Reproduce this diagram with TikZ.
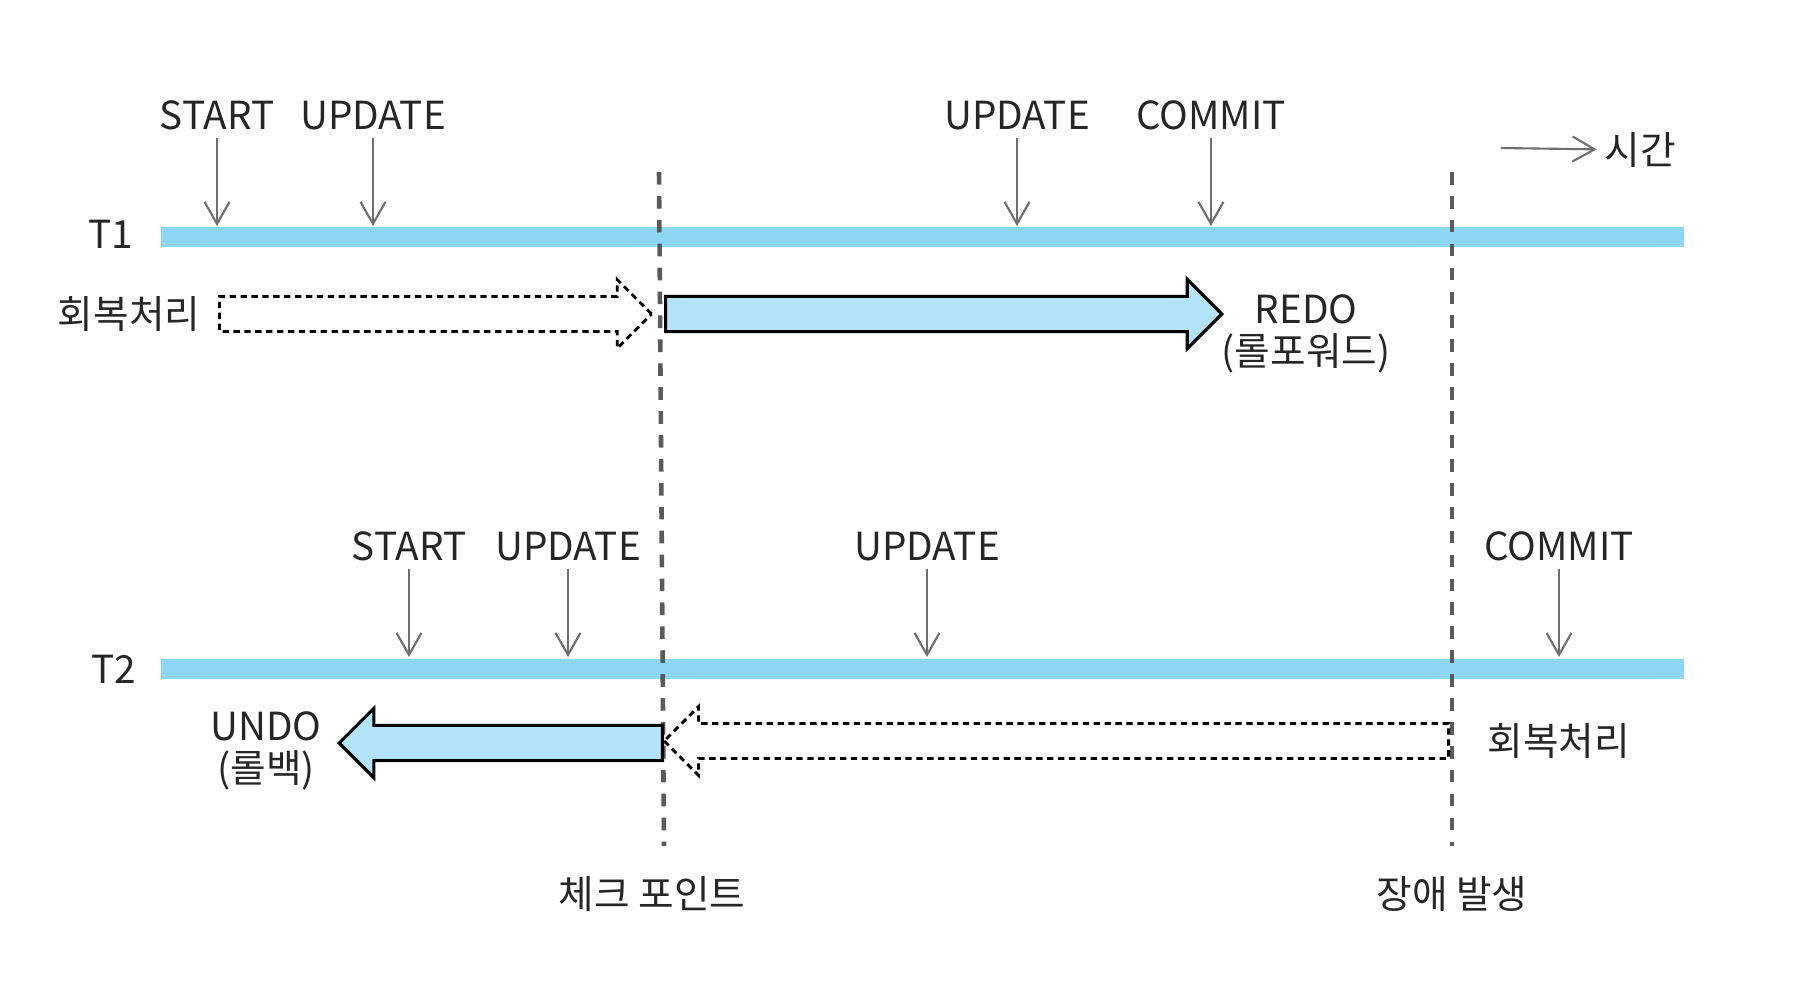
\documentclass[tikz,border=0pt]{standalone}
\usepackage{fontspec}
\setmainfont{Noto Sans CJK KR}
\usepackage{tikz}
\usetikzlibrary{arrows.meta,positioning,shapes.arrows}
\definecolor{tlbar}{HTML}{8DD6F4}
\definecolor{arrfill}{HTML}{B3E3F8}
\definecolor{evtgray}{HTML}{6E6E6E}
\definecolor{linegray}{HTML}{5A5A5A}

\begin{document}
\begin{tikzpicture}[x=0.01cm, y=-0.01cm,
  every node/.style={font=\fontsize{11}{12}\selectfont, text=black!85},
  lbl/.style={inner sep=2pt, align=center},
  bar/.style={tlbar, line width=0.19cm},
  evt/.style={-{Straight Barb[length=2.2mm,width=2.5mm]}, evtgray, line width=0.6pt},
  ckline/.style={linegray, line width=1.3pt, dash pattern=on 3.6pt off 3.2pt},
  fat/.style={single arrow, draw=black, inner xsep=0pt, inner ysep=0.16cm,
              single arrow head indent=0pt, single arrow head extend=0.17cm},
  fatsolid/.style={fat, fill=arrfill, line width=0.9pt},
  fatdash/.style={fat, line width=0.8pt, dash pattern=on 1.8pt off 1.3pt}]
\useasboundingbox (0,0) rectangle (1793,1000);

% time lines
\node (T1) at (111,234) {T1};
\node (T2) at (114,669) {T2};
\coordinate (b1s) at (161,237);
\coordinate (b1e) at (1684,237);
\coordinate (b2s) at (161,669);
\coordinate (b2e) at (1684,669);
\draw[bar] (b1s) -- (b1e);
\draw[bar] (b2s) -- (b2e);

% time direction
\coordinate (tA) at (1501,148);
\node[lbl] (time) at (1640,150) {시간};
\draw[evt] (tA) -- (time);

% T1 events
\foreach \x/\t [count=\i] in {217/START, 373/UPDATE, 1017/UPDATE, 1211/COMMIT}{
  \coordinate (ea\i) at (\x,226);
  \node[lbl, above=0.88cm of ea\i] (la\i) {\t};
  \draw[evt] (la\i) -- (ea\i);
}

% T2 events
\foreach \x/\t [count=\i] in {409/START, 568/UPDATE, 927/UPDATE, 1559/COMMIT}{
  \coordinate (eb\i) at (\x,657);
  \node[lbl, above=0.88cm of eb\i] (lb\i) {\t};
  \draw[evt] (lb\i) -- (eb\i);
}

% checkpoint and failure
\coordinate (ckTop) at (659,172);
\coordinate (ckBot) at (664,846);
\coordinate (flTop) at (1452,172);
\coordinate (flBot) at (1452,846);
\draw[ckline] (ckTop) -- (ckBot);
\draw[ckline] (flTop) -- (flBot);
\node[lbl] (ck) at (652,894) {체크 포인트};
\node[lbl] (fail) at (1452,894) {장애 발생};

% recovery arrows
\node[fatdash, minimum height=4.32cm, anchor=tail] (rec1) at (218,314) {};
\node[fatsolid, minimum height=5.56cm, anchor=tail] (redo) at (664,314) {};
\node[fatsolid, shape border rotate=180, minimum height=3.23cm, anchor=tail] (undo) at (664,743) {};
\node[fatdash, shape border rotate=180, minimum height=7.84cm, anchor=tail] (rec2) at (1450,741) {};
\node[lbl, left=0.1cm of rec1.tail] (rc1) {회복처리};
\node[lbl, right=0.3cm of rec2.tail] (rc2) {회복처리};
\node[lbl] (redolbl) at (1306,334) {REDO\\(롤포워드)};
\node[lbl] (undolbl) at (266,751) {UNDO\\(롤백)};
\end{tikzpicture}
\end{document}
